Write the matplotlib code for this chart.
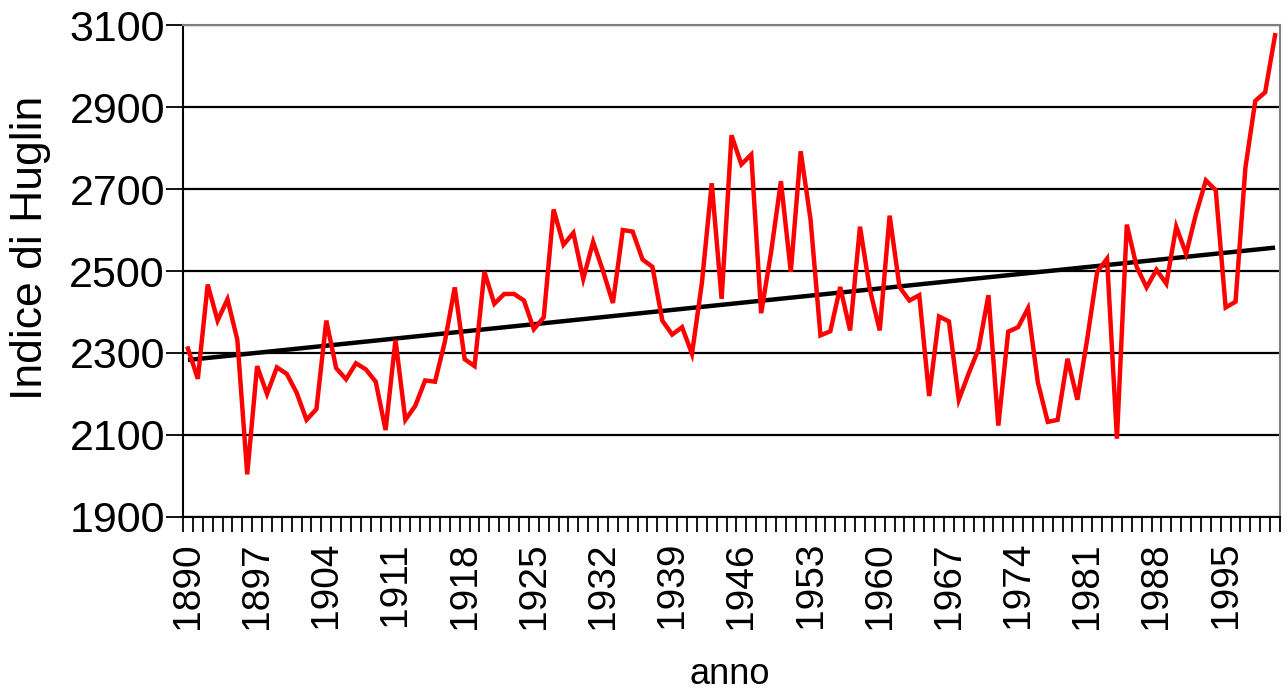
import matplotlib
matplotlib.use('Agg')
import matplotlib.pyplot as plt
import numpy as np

plt.rcParams['font.family'] = ['Liberation Sans', 'DejaVu Sans']

years = list(range(1890, 2001))
huglin = [
    2311, 2237, 2467, 2379, 2431, 2332, 2004, 2268, 2200, 2265,
    2249, 2203, 2137, 2163, 2379, 2263, 2236, 2275, 2260, 2230,
    2112, 2332, 2137, 2171, 2233, 2230, 2328, 2460, 2285, 2268,
    2498, 2420, 2444, 2444, 2428, 2358, 2387, 2650, 2564, 2593,
    2481, 2571, 2500, 2422, 2600, 2596, 2528, 2510, 2379, 2345,
    2363, 2298, 2470, 2714, 2432, 2831, 2760, 2784, 2397, 2545,
    2719, 2498, 2792, 2625, 2343, 2353, 2461, 2355, 2608, 2455,
    2355, 2635, 2461, 2428, 2441, 2195, 2389, 2377, 2186, 2250,
    2310, 2441, 2123, 2352, 2363, 2409, 2228, 2132, 2137, 2286,
    2186, 2335, 2498, 2530, 2091, 2613, 2510, 2460, 2503, 2469,
    2608, 2542, 2639, 2721, 2697, 2411, 2425, 2752, 2915, 2936,
    3075,
]
trend_years = [1890, 2000]
trend_values = [2283, 2557]
y_ticks = [1900, 2100, 2300, 2500, 2700, 2900, 3100]
label_step = 7

fig = plt.figure(figsize=(12.87, 6.99), dpi=100)
ax = fig.add_axes([183/1287, 1 - 517/699, (1280-183)/1287, (517-25)/699])

x = np.arange(len(years))
tx = [years.index(y) for y in trend_years]

ax.plot(tx, trend_values, color='black', lw=3.2, solid_capstyle='butt', zorder=3)
ax.plot(x, huglin, color='#ff0000', lw=3.2, solid_joinstyle='miter', zorder=4)

ax.set_xlim(-0.5, len(years) - 0.5)
ax.set_ylim(1900, 3100)
ax.set_yticks(y_ticks)
ax.set_yticklabels([str(v) for v in y_ticks])
ax.yaxis.grid(True, color='black', lw=1.6)
ax.set_axisbelow(True)

lab_idx = list(range(0, len(years), label_step))
ax.set_xticks(lab_idx)
ax.set_xticklabels([str(years[i]) for i in lab_idx], rotation=90)
ax.set_xticks(np.arange(-0.5, len(years), 1), minor=True)
ax.tick_params(axis='x', which='major', length=0, labelsize=28, pad=18)
ax.tick_params(axis='x', which='minor', length=11, width=1.3, direction='out')
ax.tick_params(axis='y', which='major', length=12, width=1.3, direction='out', labelsize=31, pad=1)

for s in ['left', 'bottom']:
    ax.spines[s].set_color('black')
    ax.spines[s].set_linewidth(1.5)
for s in ['top', 'right']:
    ax.spines[s].set_color('#808080')
    ax.spines[s].set_linewidth(1.5)

fig.text(31/1287, 1 - 248/699, 'Indice di Huglin', rotation=90, fontsize=32,
         ha='center', va='center')
fig.text(730/1287, 1 - 675/699, 'anno', fontsize=26, ha='center', va='center')

fig.savefig('out.png', dpi=100)
